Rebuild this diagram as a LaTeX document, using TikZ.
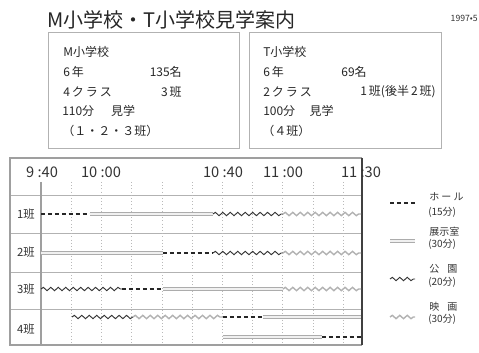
\documentclass[tikz,border=0pt]{standalone}
\usepackage{fontspec}
\setmainfont{Noto Sans CJK JP}
\usetikzlibrary{decorations.pathmorphing}
\tikzset{
  hall/.style={line width=1.2pt, dash pattern=on 3.3pt off 1.9pt, black!85},
  exhib/.style={draw=gray!65, line width=0.45pt, double=gray!12, double distance=1.6pt},
  park/.style={black!80, line width=0.7pt, decorate, decoration={snake, segment length=5.6pt, amplitude=1.25pt}},
  movie/.style={gray!60, line width=1.05pt, decorate, decoration={snake, segment length=5.6pt, amplitude=1.25pt}},
  boxtxt/.style={font=\fontsize{9}{11}\selectfont, inner sep=0pt, text=black!85},
  timetxt/.style={font=\fontsize{11}{13}\selectfont, inner sep=0pt, text=black!80},
  rowtxt/.style={font=\fontsize{8.5}{10}\selectfont, inner sep=0pt, text=black!80},
  legtxt/.style={font=\fontsize{7.5}{9}\selectfont, inner sep=0pt, anchor=west, text=black!80},
  infobox/.style={draw=gray!60, line width=0.6pt},
  grid/.style={gray!55, line width=0.4pt, dotted},
  sep/.style={gray!60, line width=0.6pt}
}
\begin{document}
\begin{tikzpicture}[x=0.75pt,y=-0.75pt]
\useasboundingbox (0,0) rectangle (479,353);
% title
\node[font=\fontsize{15}{18}\selectfont, anchor=west, inner sep=0pt, text=black!85] (title) at (47,20) {M小学校・T小学校見学案内};
\node[font=\fontsize{6.5}{8}\selectfont, anchor=east, inner sep=0pt, text=black!80] (date) at (478,18) {1997•5};
% info boxes
\draw[infobox] (48,32) rectangle (239,148);
\draw[infobox] (249,32) rectangle (441,148);
\node[boxtxt, anchor=west] (m1) at (63,52) {M小学校};
\node[boxtxt, anchor=west] (m2) at (63,72) {6\,年};
\node[boxtxt, anchor=east] (m2r) at (182,72) {135名};
\node[boxtxt, anchor=west] (m3) at (63,92) {4\,ク\,ラ\,ス};
\node[boxtxt, anchor=east] (m3r) at (182,92) {3\,班};
\node[boxtxt, anchor=west] (m4) at (62,111) {110分\hspace{1.4em}見学};
\node[boxtxt, anchor=west] (m5) at (62,131) {（１・２・３班）};
\node[boxtxt, anchor=west] (t1) at (263,52) {T小学校};
\node[boxtxt, anchor=west] (t2) at (263,72) {6\,年};
\node[boxtxt, anchor=east] (t2r) at (367,72) {69名};
\node[boxtxt, anchor=west] (t3) at (263,92) {2\,ク\,ラ\,ス};
\node[boxtxt, anchor=east] (t3r) at (436,92) {1\,班(後半\,2\,班)};
\node[boxtxt, anchor=west] (t4) at (263,111) {100分\hspace{1.2em}見学};
\node[boxtxt, anchor=west] (t5) at (262,131) {（４班）};
% chart frame
\draw[sep] (10,195) -- (362,195);
\draw[sep] (10,233) -- (362,233);
\draw[sep] (10,272) -- (362,272);
\draw[sep] (10,309) -- (362,309);
\foreach \k in {1,...,10} {
  \draw[grid] ({41+30.2*\k},182) -- ({41+30.2*\k},345);
}
\draw[gray!75, line width=1.1pt] (41,182) -- (41,345);
\draw[gray!75, line width=0.9pt] (362,158) -- (10,158) -- (10,345) -- (362,345);
\draw[black!75, line width=1.2pt] (362,158) -- (362,345);
% time labels
\node[timetxt] (h940) at (42,172) {9 :40};
\node[timetxt] (h1000) at (101,172) {10 :00};
\node[timetxt] (h1040) at (223,172) {10 :40};
\node[timetxt] (h1100) at (283,172) {11 :00};
\node[timetxt] (h1130) at (361,172) {11 :30};
% row labels
\node[rowtxt] (r1) at (26,214) {1班};
\node[rowtxt] (r2) at (26,252) {2班};
\node[rowtxt] (r3) at (26,289) {3班};
\node[rowtxt] (r4) at (26,329) {4班};
% row 1
\draw[hall] (41,214) -- (90,214);
\draw[exhib] (90,214) -- (213,214);
\draw[park] (213,214) -- (283,214);
\draw[movie] (283,214) -- (361,214);
% row 2
\draw[exhib] (41,253) -- (163,253);
\draw[hall] (163,253) -- (213,253);
\draw[park] (213,253) -- (283,253);
\draw[movie] (283,253) -- (361,253);
% row 3
\draw[park] (41,289) -- (122,289);
\draw[hall] (122,289) -- (163,289);
\draw[exhib] (163,289) -- (283,289);
\draw[movie] (283,289) -- (361,289);
% row 4
\draw[park] (72,317) -- (133,317);
\draw[movie] (133,317) -- (223,317);
\draw[hall] (223,317) -- (263,317);
\draw[exhib] (263,317) -- (361,317);
\draw[exhib] (223,337) -- (322,337);
\draw[hall] (322,337) -- (361,337);
% legend
\draw[hall] (390,203) -- (415,203);
\node[legtxt] (l1a) at (429,197) {ホ ー ル};
\node[legtxt] (l1b) at (428,212) {(15分)};
\draw[exhib] (390,241) -- (415,241);
\node[legtxt] (l2a) at (429,232) {展示室};
\node[legtxt] (l2b) at (428,244) {(30分)};
\draw[park] (390,279) -- (415,279);
\node[legtxt] (l3a) at (429,269) {公\hspace{0.8em}園};
\node[legtxt] (l3b) at (428,282) {(20分)};
\draw[movie] (390,317) -- (415,317);
\node[legtxt] (l4a) at (429,307) {映\hspace{0.8em}画};
\node[legtxt] (l4b) at (428,319) {(30分)};
\end{tikzpicture}
\end{document}
